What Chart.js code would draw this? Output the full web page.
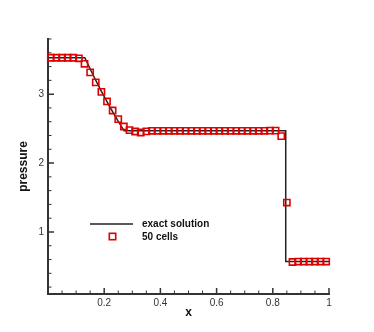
<!DOCTYPE html>
<html>
<head>
<meta charset="utf-8">
<script src="https://cdn.jsdelivr.net/npm/chart.js@4"></script>
<style>
  html, body { margin: 0; padding: 0; background: #fff; }
  #wrap { width: 374px; height: 332px; }
</style>
</head>
<body>
<div id="wrap"><canvas id="chart" width="374" height="332"></canvas></div>
<script>
// exact solution (pressure)
const exactX = [0, 0.131, 0.16, 0.19, 0.22, 0.25, 0.271, 0.846, 0.846, 1];
const exactP = [3.528, 3.528, 3.282, 3.041, 2.816, 2.604, 2.468, 2.468, 0.571, 0.571];

// 50 cells numerical result
const cellX = [0.01, 0.03, 0.05, 0.07, 0.09, 0.11, 0.13, 0.15, 0.17, 0.19,
  0.21, 0.23, 0.25, 0.27, 0.29, 0.31, 0.33, 0.35, 0.37, 0.39,
  0.41, 0.43, 0.45, 0.47, 0.49, 0.51, 0.53, 0.55, 0.57, 0.59,
  0.61, 0.63, 0.65, 0.67, 0.69, 0.71, 0.73, 0.75, 0.77, 0.79,
  0.81, 0.83, 0.85, 0.87, 0.89, 0.91, 0.93, 0.95, 0.97, 0.99];
const cellP = [3.528, 3.528, 3.528, 3.528, 3.528, 3.52, 3.44, 3.315, 3.17, 3.033,
  2.894, 2.763, 2.637, 2.53, 2.477, 2.458, 2.443, 2.46, 2.468, 2.468,
  2.468, 2.468, 2.468, 2.468, 2.468, 2.468, 2.468, 2.468, 2.468, 2.468,
  2.468, 2.468, 2.468, 2.468, 2.468, 2.468, 2.468, 2.468, 2.468, 2.47,
  2.47, 2.39, 1.427, 0.564, 0.571, 0.571, 0.571, 0.571, 0.571, 0.571];

const xMajor = [0.2, 0.4, 0.6, 0.8, 1];
const xMinor = [0.05, 0.1, 0.15, 0.25, 0.3, 0.35, 0.45, 0.5, 0.55, 0.65, 0.7, 0.75, 0.85, 0.9, 0.95];
const yMajor = [1, 2, 3];
const yMinor = [0.2, 0.4, 0.6, 0.8, 1.2, 1.4, 1.6, 1.8, 2.2, 2.4, 2.6, 2.8, 3.2, 3.4, 3.6, 3.8];

const legendLabels = ['exact solution', '50 cells'];

const FONT = '"Liberation Sans", Arial, Helvetica, sans-serif';
const AXIS_COLOR = '#333';
const LINE_COLOR = '#222';
const MARK_COLOR = 'rgb(225,0,0)';

const tickMarks = {
  id: 'tickMarks',
  afterDraw(chart) {
    const ctx = chart.ctx;
    const xs = chart.scales.x, ys = chart.scales.y;
    const area = chart.chartArea;
    ctx.save();
    ctx.strokeStyle = AXIS_COLOR;
    ctx.lineWidth = 1.5;
    ctx.beginPath();
    xMajor.forEach(v => { const p = xs.getPixelForValue(v); ctx.moveTo(p, area.bottom); ctx.lineTo(p, area.bottom - 6); });
    yMajor.forEach(v => { const p = ys.getPixelForValue(v); ctx.moveTo(area.left, p); ctx.lineTo(area.left + 6, p); });
    ctx.stroke();
    ctx.lineWidth = 1;
    ctx.beginPath();
    xMinor.forEach(v => { const p = xs.getPixelForValue(v); ctx.moveTo(p, area.bottom); ctx.lineTo(p, area.bottom - 3.5); });
    yMinor.forEach(v => { const p = ys.getPixelForValue(v); ctx.moveTo(area.left, p); ctx.lineTo(area.left + 3.5, p); });
    ctx.stroke();

    // legend
    ctx.font = 'bold 10px ' + FONT;
    ctx.fillStyle = '#111';
    ctx.textBaseline = 'middle';
    ctx.textAlign = 'left';
    ctx.strokeStyle = LINE_COLOR;
    ctx.lineWidth = 1.5;
    ctx.beginPath();
    ctx.moveTo(90, 224);
    ctx.lineTo(133, 224);
    ctx.stroke();
    ctx.fillText(legendLabels[0], 142, 224.5);
    ctx.strokeStyle = MARK_COLOR;
    ctx.lineWidth = 1.6;
    ctx.strokeRect(109.3, 233.3, 6.4, 6.4);
    ctx.fillText(legendLabels[1], 142, 237);
    ctx.restore();
  }
};

new Chart(document.getElementById('chart'), {
  type: 'scatter',
  data: {
    datasets: [{
      label: legendLabels[0],
      type: 'line',
      order: 2,
      data: exactX.map((x, i) => ({ x: x, y: exactP[i] })),
      borderColor: LINE_COLOR,
      borderWidth: 1.5,
      pointRadius: 0,
      fill: false,
      tension: 0
    }, {
      label: legendLabels[1],
      order: 1,
      data: cellX.map((x, i) => ({ x: x, y: cellP[i] })),
      pointStyle: 'rect',
      pointRadius: 4.4,
      borderColor: MARK_COLOR,
      pointBorderColor: MARK_COLOR,
      backgroundColor: 'rgba(0,0,0,0)',
      pointBackgroundColor: 'rgba(0,0,0,0)',
      borderWidth: 1.6,
      pointBorderWidth: 1.6,
      clip: false
    }]
  },
  options: {
    responsive: false,
    animation: false,
    layout: { padding: { left: 0, right: 45, top: 39, bottom: 0 } },
    plugins: { legend: { display: false }, tooltip: { enabled: false } },
    scales: {
      x: {
        type: 'linear',
        min: 0,
        max: 1,
        grid: { display: false, drawTicks: false },
        border: { display: true, color: AXIS_COLOR, width: 2 },
        afterBuildTicks: s => { s.ticks = xMajor.map(v => ({ value: v })); },
        afterFit: s => { s.height = 38; },
        ticks: { padding: 3, color: '#333', font: { family: FONT, size: 10 }, maxRotation: 0, callback: v => String(v) },
        title: { display: true, text: 'x', color: '#111', font: { family: FONT, size: 12, weight: 'bold' }, padding: { top: 0, bottom: 12 } }
      },
      y: {
        type: 'linear',
        min: 0.1,
        max: 3.8,
        grid: { display: false, drawTicks: false },
        border: { display: true, color: AXIS_COLOR, width: 2 },
        afterBuildTicks: s => { s.ticks = yMajor.map(v => ({ value: v })); },
        afterFit: s => { s.width = 48; },
        ticks: { padding: 4, color: '#333', font: { family: FONT, size: 10 }, callback: v => String(v) },
        title: { display: true, text: 'pressure', color: '#111', font: { family: FONT, size: 12, weight: 'bold' }, padding: { top: 16, bottom: 0 } }
      }
    }
  },
  plugins: [tickMarks]
});
</script>
</body>
</html>
